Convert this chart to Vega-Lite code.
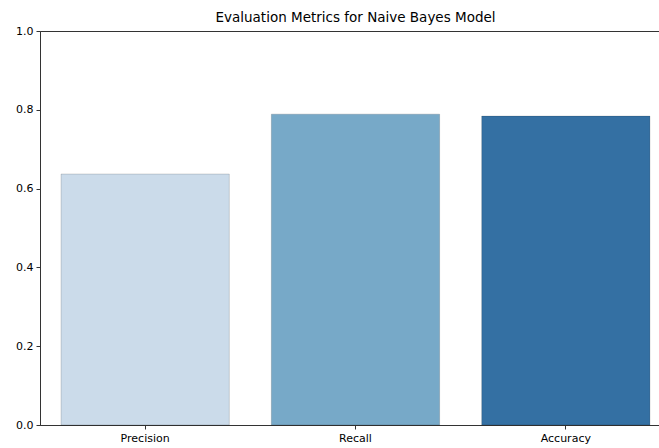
{
  "$schema": "https://vega.github.io/schema/vega-lite/v6.json",
  "autosize": {"type": "none"},
  "padding": {"left": 40, "top": 31, "right": 0, "bottom": 23},
  "width": 631,
  "height": 394,
  "background": "white",
  "title": {
    "text": "Evaluation Metrics for Naive Bayes Model",
    "font": "DejaVu Sans",
    "fontSize": 13.5,
    "fontWeight": "normal",
    "color": "black",
    "offset": 1
  },
  "config": {
    "view": {"stroke": "#333", "strokeWidth": 1},
    "axis": {
      "labelFont": "DejaVu Sans",
      "labelFontSize": 11,
      "labelColor": "black",
      "tickColor": "#333",
      "domainColor": "#333",
      "tickSize": 4,
      "grid": false
    }
  },
  "data": {
    "values": [
      {"metric": "Precision", "value": 0.637},
      {"metric": "Recall", "value": 0.789},
      {"metric": "Accuracy", "value": 0.784}
    ]
  },
  "mark": {"type": "bar", "stroke": "#000", "strokeOpacity": 0.15, "strokeWidth": 1},
  "encoding": {
    "x": {
      "field": "metric",
      "type": "nominal",
      "sort": ["Precision", "Recall", "Accuracy"],
      "scale": {"paddingInner": 0.2, "paddingOuter": 0.1},
      "axis": {"title": null, "labelAngle": 0, "labelPadding": 3}
    },
    "y": {
      "field": "value",
      "type": "quantitative",
      "scale": {"domain": [0, 1]},
      "axis": {"title": null, "values": [0, 0.2, 0.4, 0.6, 0.8, 1.0], "format": ".1f", "labelPadding": 3}
    },
    "color": {
      "field": "metric",
      "type": "nominal",
      "scale": {"domain": ["Precision", "Recall", "Accuracy"], "range": ["#cbdbea", "#77a9c8", "#3470a3"]},
      "legend": null
    }
  }
}
